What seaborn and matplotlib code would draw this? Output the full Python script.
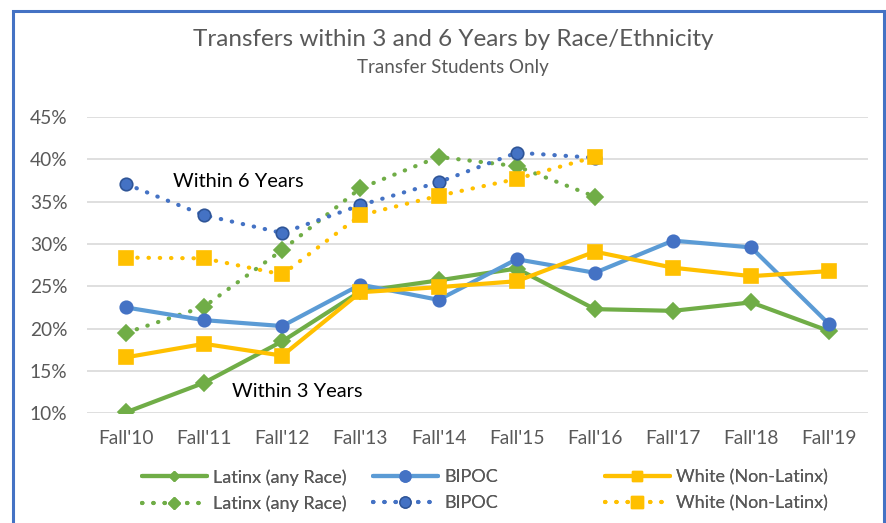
import pandas as pd
import numpy as np
import seaborn as sns
import matplotlib.pyplot as plt
from matplotlib.lines import Line2D
from matplotlib.patches import Rectangle

# data
terms = ["Fall'10", "Fall'11", "Fall'12", "Fall'13", "Fall'14",
         "Fall'15", "Fall'16", "Fall'17", "Fall'18", "Fall'19"]
latinx_3yr = [10.1, 13.6, 18.5, 24.4, 25.7, 27.1, 22.3, 22.1, 23.1, 19.7]
bipoc_3yr = [22.5, 21.0, 20.3, 25.2, 23.4, 28.2, 26.6, 30.4, 29.6, 20.5]
white_3yr = [16.6, 18.2, 16.8, 24.3, 24.9, 25.6, 29.1, 27.2, 26.2, 26.8]
latinx_6yr = [19.5, 22.6, 29.3, 36.6, 40.3, 39.2, 35.6]
bipoc_6yr = [37.1, 33.4, 31.3, 34.6, 37.3, 40.8, 40.2]
white_6yr = [28.4, 28.3, 26.4, 33.4, 35.7, 37.7, 40.3]
yticks = [10, 15, 20, 25, 30, 35, 40, 45]

sns.set_theme(style="white")
plt.rcParams['font.family'] = ['Lato', 'DejaVu Sans']

fig = plt.figure(figsize=(8.87, 5.23), dpi=100)
ax = fig.add_axes([0.098, 0.210, 0.881, 0.566])

green = '#70AD47'
lblue = '#5B9BD5'
dblue = '#4472C4'
yellow = '#FFC000'
dots = (0, (0.1, 2.6))

def draw(vals, color, marker, ms, dotted, mfc=None, mec=None):
    df = pd.DataFrame({'x': np.arange(len(vals)), 'y': vals})
    kw = dict(linewidth=3.0, solid_capstyle='round')
    if dotted:
        kw = dict(linewidth=3.0, linestyle=dots, dash_capstyle='round')
    sns.lineplot(data=df, x='x', y='y', ax=ax, color=color, marker=marker,
                 markersize=ms, markerfacecolor=mfc or color,
                 markeredgecolor=mec or (mfc or color), markeredgewidth=1.2,
                 zorder=3, **kw)

draw(latinx_6yr, green, 'D', 8, True)
draw(bipoc_6yr, dblue, 'o', 9, True, mfc=dblue, mec='#2F5597')
draw(white_6yr, yellow, 's', 9.5, True)
draw(latinx_3yr, green, 'D', 8, False)
draw(bipoc_3yr, lblue, 'o', 9, False, mfc=dblue, mec=dblue)
draw(white_3yr, yellow, 's', 9.5, False)

ax.set_xlim(-0.5, 9.5)
ax.set_ylim(10, 45)
ax.set_yticks(yticks)
ax.set_yticklabels([f'{v}%' for v in yticks])
ax.set_xticks(np.arange(len(terms)))
ax.set_xticklabels(terms)
ax.tick_params(axis='both', colors='#595959', labelsize=13.8, length=0)
ax.tick_params(axis='x', pad=12)
ax.tick_params(axis='y', pad=14)
ax.set_xlabel('')
ax.set_ylabel('')
ax.grid(axis='y', color='#D9D9D9', linewidth=1.2)
ax.set_axisbelow(True)
sns.despine(ax=ax, top=True, bottom=True, left=True, right=True)

ax.text(1.44, 37.4, 'Within 6 Years', fontsize=14.4, color='black', ha='center', va='center')
ax.text(2.19, 12.6, 'Within 3 Years', fontsize=14.4, color='black', ha='center', va='center')

fig.text(453 / 887, 1 - 39 / 523, 'Transfers within 3 and 6 Years by Race/Ethnicity',
         ha='center', va='center', fontsize=17.5, color='#595959')
fig.text(453 / 887, 1 - 67 / 523, 'Transfer Students Only', ha='center', va='center',
         fontsize=13.5, color='#595959')

# legends: one per column
def handle(color, marker, dotted, mfc=None, mec=None, ms=8):
    ls = dots if dotted else '-'
    return Line2D([], [], color=color, linewidth=3.0, linestyle=ls,
                  dash_capstyle='round', marker=marker, markersize=ms,
                  markerfacecolor=mfc or color, markeredgecolor=mec or (mfc or color))

cols = [
    ([handle(green, 'D', False, ms=5), handle(green, 'D', True, ms=6.5)],
     ['Latinx (any Race)', 'Latinx (any Race)'], 142),
    ([handle(lblue, 'o', False, mfc=dblue, mec=dblue, ms=8), handle(dblue, 'o', True, mec='#2F5597', ms=8)],
     ['BIPOC', 'BIPOC'], 373),
    ([handle(yellow, 's', False, ms=7.5), handle(yellow, 's', True, ms=8.5)],
     ['White (Non-Latinx)', 'White (Non-Latinx)'], 605),
]
for hs, labs, x0 in cols:
    leg = fig.legend(hs, labs, loc='upper left', bbox_to_anchor=(x0 / 887, 1 - 469 / 523),
                     frameon=False, fontsize=13, handlelength=3.6,
                     handletextpad=0.33, labelspacing=0.57, borderaxespad=0,
                     borderpad=0)
    for t in leg.get_texts():
        t.set_color('#595959')
    fig.add_artist(leg)

fig.add_artist(Rectangle((13 / 887, -0.05), (884 - 13) / 887, 1 - 11 / 523 + 0.05,
                         transform=fig.transFigure, fill=False,
                         edgecolor='#4472C4', linewidth=2.2))

fig.savefig('out.png', dpi=100)
